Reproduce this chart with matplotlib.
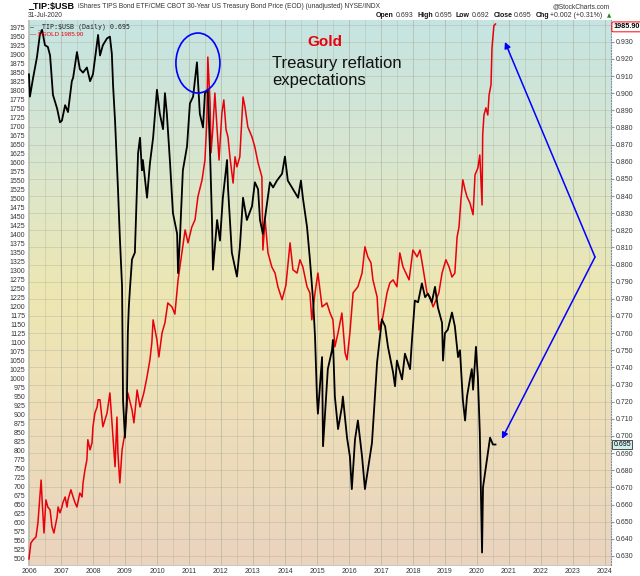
import numpy as np
import matplotlib
matplotlib.use('Agg')
import matplotlib.pyplot as plt
from matplotlib.patches import Ellipse
from matplotlib.transforms import blended_transform_factory

plt.rcParams.update({'font.family': 'Liberation Sans'})

# ── data ──────────────────────────────────────────────────────────────────
tip_years = [2006.00, 2006.03, 2006.13, 2006.25, 2006.34, 2006.41, 2006.50, 2006.59, 2006.66, 2006.75,
             2006.88, 2006.97, 2007.03, 2007.13, 2007.22, 2007.34, 2007.38, 2007.50, 2007.59, 2007.69,
             2007.81, 2007.91, 2008.00, 2008.13, 2008.16, 2008.22, 2008.31, 2008.44, 2008.53, 2008.59,
             2008.63, 2008.69, 2008.78, 2008.84, 2008.91, 2008.94, 2009.00, 2009.06, 2009.09, 2009.12,
             2009.16, 2009.22, 2009.31, 2009.41, 2009.47, 2009.53, 2009.56, 2009.69, 2009.78, 2009.88,
             2010.00, 2010.09, 2010.19, 2010.25, 2010.31, 2010.41, 2010.50, 2010.63, 2010.66, 2010.72,
             2010.81, 2010.94, 2011.03, 2011.13, 2011.25, 2011.34, 2011.44, 2011.50, 2011.59, 2011.66,
             2011.72, 2011.75, 2011.88, 2011.97, 2012.06, 2012.19, 2012.22, 2012.34, 2012.50, 2012.59,
             2012.69, 2012.81, 2012.97, 2013.06, 2013.16, 2013.22, 2013.31, 2013.44, 2013.53, 2013.63,
             2013.75, 2013.91, 2014.00, 2014.09, 2014.25, 2014.41, 2014.50, 2014.56, 2014.69, 2014.78,
             2014.88, 2014.94, 2015.00, 2015.03, 2015.16, 2015.19, 2015.34, 2015.47, 2015.50, 2015.56,
             2015.66, 2015.78, 2015.81, 2015.94, 2016.03, 2016.09, 2016.19, 2016.28, 2016.41, 2016.50,
             2016.59, 2016.72, 2016.81, 2016.88, 2016.97, 2017.03, 2017.13, 2017.22, 2017.38, 2017.44,
             2017.50, 2017.66, 2017.75, 2017.91, 2017.97, 2018.06, 2018.16, 2018.28, 2018.38, 2018.47,
             2018.59, 2018.69, 2018.78, 2018.91, 2018.94, 2019.00, 2019.09, 2019.22, 2019.31, 2019.41,
             2019.47, 2019.56, 2019.63, 2019.69, 2019.78, 2019.84, 2019.88, 2019.97, 2020.03, 2020.09,
             2020.16, 2020.19, 2020.25, 2020.34, 2020.41, 2020.50, 2020.58]
tip_values = [0.911, 0.898, 0.909, 0.921, 0.934, 0.937, 0.928, 0.927, 0.922, 0.899,
              0.891, 0.883, 0.884, 0.893, 0.889, 0.907, 0.909, 0.924, 0.914, 0.912,
              0.915, 0.907, 0.911, 0.930, 0.934, 0.922, 0.928, 0.932, 0.933, 0.923,
              0.904, 0.884, 0.845, 0.816, 0.787, 0.721, 0.699, 0.721, 0.760, 0.775,
              0.787, 0.803, 0.807, 0.865, 0.874, 0.855, 0.861, 0.839, 0.859, 0.874,
              0.902, 0.888, 0.879, 0.900, 0.888, 0.859, 0.830, 0.818, 0.795, 0.816,
              0.855, 0.869, 0.894, 0.898, 0.918, 0.888, 0.880, 0.900, 0.902, 0.865,
              0.826, 0.797, 0.826, 0.814, 0.839, 0.861, 0.845, 0.807, 0.793, 0.810,
              0.839, 0.826, 0.834, 0.848, 0.844, 0.826, 0.818, 0.836, 0.848, 0.845,
              0.849, 0.853, 0.863, 0.849, 0.844, 0.839, 0.849, 0.839, 0.822, 0.803,
              0.779, 0.758, 0.723, 0.713, 0.746, 0.694, 0.739, 0.750, 0.756, 0.723,
              0.704, 0.717, 0.723, 0.699, 0.688, 0.669, 0.698, 0.709, 0.688, 0.669,
              0.680, 0.696, 0.723, 0.743, 0.758, 0.768, 0.764, 0.752, 0.737, 0.729,
              0.744, 0.733, 0.748, 0.739, 0.756, 0.779, 0.778, 0.789, 0.781, 0.783,
              0.778, 0.787, 0.775, 0.766, 0.744, 0.760, 0.762, 0.772, 0.764, 0.746,
              0.750, 0.721, 0.709, 0.723, 0.733, 0.739, 0.727, 0.752, 0.734, 0.702,
              0.632, 0.670, 0.678, 0.690, 0.699, 0.695, 0.695]

gold_years = [2006.00, 2006.06, 2006.13, 2006.22, 2006.28, 2006.34, 2006.38, 2006.41, 2006.44, 2006.47,
              2006.53, 2006.59, 2006.66, 2006.72, 2006.78, 2006.88, 2006.91, 2006.97, 2007.03, 2007.06,
              2007.13, 2007.19, 2007.22, 2007.31, 2007.38, 2007.44, 2007.50, 2007.59, 2007.66, 2007.69,
              2007.75, 2007.81, 2007.84, 2007.91, 2007.97, 2008.00, 2008.06, 2008.13, 2008.16, 2008.22,
              2008.31, 2008.44, 2008.53, 2008.63, 2008.69, 2008.75, 2008.78, 2008.84, 2008.91, 2009.00,
              2009.09, 2009.22, 2009.28, 2009.38, 2009.47, 2009.59, 2009.69, 2009.78, 2009.84, 2009.88,
              2009.94, 2010.00, 2010.06, 2010.16, 2010.25, 2010.34, 2010.47, 2010.56, 2010.66, 2010.78,
              2010.88, 2010.97, 2011.09, 2011.19, 2011.28, 2011.41, 2011.50, 2011.56, 2011.59, 2011.66,
              2011.69, 2011.75, 2011.81, 2011.88, 2011.94, 2012.03, 2012.09, 2012.16, 2012.22, 2012.28,
              2012.38, 2012.44, 2012.50, 2012.59, 2012.69, 2012.75, 2012.84, 2012.97, 2013.06, 2013.16,
              2013.28, 2013.31, 2013.38, 2013.47, 2013.59, 2013.69, 2013.78, 2013.91, 2014.03, 2014.16,
              2014.25, 2014.38, 2014.47, 2014.56, 2014.69, 2014.78, 2014.84, 2014.94, 2015.03, 2015.16,
              2015.31, 2015.41, 2015.50, 2015.56, 2015.66, 2015.78, 2015.88, 2015.94, 2016.03, 2016.13,
              2016.28, 2016.41, 2016.50, 2016.59, 2016.69, 2016.75, 2016.88, 2016.94, 2017.06, 2017.19,
              2017.28, 2017.38, 2017.50, 2017.59, 2017.69, 2017.78, 2017.88, 2018.00, 2018.13, 2018.22,
              2018.31, 2018.44, 2018.53, 2018.63, 2018.72, 2018.81, 2018.91, 2019.03, 2019.13, 2019.22,
              2019.31, 2019.38, 2019.44, 2019.50, 2019.56, 2019.63, 2019.69, 2019.78, 2019.88, 2019.94,
              2020.03, 2020.09, 2020.16, 2020.18, 2020.22, 2020.28, 2020.34, 2020.38, 2020.44, 2020.47,
              2020.53, 2020.58]
gold_values = [500, 544, 553, 561, 600, 672, 719, 664, 617, 572,
               664, 644, 636, 589, 572, 617, 644, 628, 644, 656,
               672, 644, 664, 692, 672, 656, 644, 683, 672, 711,
               747, 775, 831, 803, 822, 867, 905, 922, 942, 942,
               867, 905, 961, 831, 756, 894, 794, 711, 803, 850,
               961, 914, 878, 969, 922, 961, 1006, 1053, 1100, 1164,
               1136, 1108, 1061, 1128, 1156, 1211, 1200, 1180, 1275, 1350,
               1414, 1378, 1422, 1442, 1506, 1553, 1608, 1719, 1894, 1767,
               1628, 1700, 1794, 1692, 1608, 1739, 1775, 1692, 1672, 1617,
               1544, 1617, 1589, 1617, 1783, 1756, 1700, 1672, 1644, 1600,
               1561, 1358, 1442, 1350, 1311, 1294, 1256, 1220, 1260, 1378,
               1303, 1294, 1331, 1311, 1256, 1239, 1164, 1239, 1294, 1200,
               1211, 1183, 1164, 1089, 1128, 1183, 1072, 1053, 1128, 1239,
               1256, 1294, 1367, 1339, 1322, 1275, 1228, 1136, 1172, 1239,
               1267, 1275, 1256, 1350, 1311, 1294, 1275, 1358, 1339, 1358,
               1311, 1239, 1228, 1200, 1219, 1239, 1294, 1331, 1311, 1283,
               1294, 1394, 1422, 1497, 1553, 1525, 1506, 1489, 1456, 1567,
               1586, 1622, 1483, 1678, 1733, 1753, 1733, 1789, 1817, 1919,
               1981, 1985.9]

years = list(range(2006, 2025))
gold_ticks = list(range(500, 2000, 25))
tip_ticks = [round(0.63 + 0.01 * i, 3) for i in range(32)]

# ── figure ────────────────────────────────────────────────────────────────
W, H = 640, 576
fig = plt.figure(figsize=(W / 100, H / 100), dpi=100)
ax = fig.add_axes([28 / W, 11 / H, 583 / W, 545 / H])
ax.set_xlim(2005.97, 2024.19)
ax.set_ylim(483, 1997)
ax2 = ax.twinx()
ax2.set_ylim(0.6247, 0.9427)

# background gradient teal -> yellow -> peach
stops = np.array([[197, 228, 226], [216, 230, 208], [238, 231, 178],
                  [237, 221, 185], [235, 211, 190]]) / 255.0
pos = np.linspace(0, 1, len(stops))
t = np.linspace(0, 1, 300)
grad = np.stack([np.interp(t, pos, stops[:, k]) for k in range(3)], axis=-1)[:, None, :]
ax.imshow(grad, extent=[0, 1, 0, 1], transform=ax.transAxes, aspect='auto', zorder=0)

# grid: horizontal at right-axis ticks, vertical every half year
GRID = '#a9b09a'
trans_h = blended_transform_factory(ax.transAxes, ax2.transData)
for v in tip_ticks:
    ax.plot([0, 1], [v, v], transform=trans_h, color=GRID, lw=0.6, alpha=0.45, zorder=1)
for y in years:
    ax.axvline(y, color=GRID, lw=0.7, alpha=0.6, zorder=1)
    ax.axvline(y + 0.5, color=GRID, lw=0.6, alpha=0.4, zorder=1)

ax.plot(gold_years, gold_values, color='#e8000b', lw=1.1, zorder=3)
ax2.plot(tip_years, tip_values, color='black', lw=1.3, zorder=3)

# axes styling
ax.set_xticks(years)
ax.set_xticklabels([str(y) for y in years])
ax.set_yticks(gold_ticks)
ax.set_yticklabels([str(v) for v in gold_ticks])
ax.tick_params(axis='both', labelsize=5, length=0, pad=2, colors='#333333')
ax2.set_yticks(tip_ticks)
# the top label sits under the gold price tag in the original
ax2.set_yticklabels([f'{v:.3f}' if v < 0.935 else '' for v in tip_ticks])
ax2.tick_params(axis='y', labelsize=5, length=2, pad=1.5, colors='#333333', color='#8899aa')
for sp in ['left', 'bottom', 'top']:
    ax2.spines[sp].set_visible(False)
    ax.spines[sp].set_color('#b8c0b8')
    ax.spines[sp].set_linewidth(0.6)
ax.spines['top'].set_visible(False)
ax.spines['right'].set_visible(False)
ax2.spines['right'].set_color('#7a8fa8')
ax2.spines['right'].set_linestyle((0, (1, 1.5)))
ax2.spines['right'].set_linewidth(0.8)

# value tags on the right edge
tag_y = blended_transform_factory(ax2.transAxes, ax.transData)
ax2.text(1.004, gold_values[-1] - 8, f'{gold_values[-1]:.2f}', transform=tag_y, fontsize=5.2,
         fontweight='bold', va='center', ha='left', zorder=10, clip_on=False,
         bbox=dict(boxstyle='round,pad=0.2', fc='white', ec='red', lw=0.7))
ax2.text(1.004, tip_values[-1], f'{tip_values[-1]:.3f}', transform=ax2.get_yaxis_transform(),
         fontsize=5, va='center', ha='left', zorder=10, clip_on=False,
         bbox=dict(boxstyle='square,pad=0.15', fc='#cfeeee', ec='#333333', lw=0.6))

# in-plot legend
ax2.text(0.004, 0.994, r'— _TIP:\$USB (Daily) 0.695', transform=ax2.transAxes, fontsize=4.8,
         family='DejaVu Sans Mono', va='top', ha='left', color='#222222')
ax2.text(0.004, 0.979, r'— \$GOLD 1985.90', transform=ax2.transAxes, fontsize=4.5,
         va='top', ha='left', color='#e8000b')

# annotations
ax2.add_patch(Ellipse((2011.28, 0.9176), width=1.375, height=0.035, fill=False,
                      ec='blue', lw=1.2, zorder=5))
ax2.text(2015.25, 0.930, 'Gold', color='#e8000b', fontsize=11, fontweight='bold',
         ha='center', va='center', zorder=6)
ax2.text(2013.59, 0.9215, 'Treasury reflation\nexpectations', color='#111111', fontsize=12,
         ha='left', va='top', linespacing=1.1, zorder=6)
arrow = dict(arrowstyle='-|>', color='blue', lw=1.1, mutation_scale=9, shrinkA=0, shrinkB=0)
ax2.annotate('', xy=(2020.875, 0.9299), xytext=(2023.69, 0.8044), arrowprops=arrow,
             annotation_clip=False, zorder=6)
ax2.annotate('', xy=(2020.78, 0.6983), xytext=(2023.69, 0.8044), arrowprops=arrow,
             annotation_clip=False, zorder=6)

# header
def fx(px):
    return px / W

def fy(py):
    return 1 - py / H

fig.text(fx(28), fy(7), r'_TIP:\$USB', fontsize=6.5, fontweight='bold', va='center')
fig.text(fx(78), fy(6.5), 'iShares TIPS Bond ETF/CME CBOT 30-Year US Treasury Bond Price (EOD) '
         '(unadjusted) NYSE/INDX', fontsize=4.8, color='#333333', va='center')
fig.text(fx(28), fy(15.5), '31-Jul-2020', fontsize=4.8, color='#333333', va='center')
fig.text(fx(610), fy(6.5), '@StockCharts.com', fontsize=4.8, color='#333333', va='center', ha='right')

renderer = fig.canvas.get_renderer()
x = fx(376)
parts = [('Open', 'bold', '#111111'), ('0.693', 'normal', '#333333'),
         ('High', 'bold', '#111111'), ('0.695', 'normal', '#333333'),
         ('Low', 'bold', '#111111'), ('0.692', 'normal', '#333333'),
         ('Close', 'bold', '#111111'), ('0.695', 'normal', '#333333'),
         ('Chg', 'bold', '#111111'), ('+0.002 (+0.31%)', 'normal', '#333333')]
for s, w, c in parts:
    txt = fig.text(x, fy(15.5), s, fontsize=5, fontweight=w, color=c, va='center')
    bb = txt.get_window_extent(renderer)
    gap = 1.5 if w == 'bold' else 4
    x = (bb.x1 + gap) / fig.bbox.width
fig.text(x, fy(15.5), '▲', fontsize=4, color='#1a8a1a', va='center', family='DejaVu Sans')

fig.savefig('out.png', dpi=100, facecolor='white')
